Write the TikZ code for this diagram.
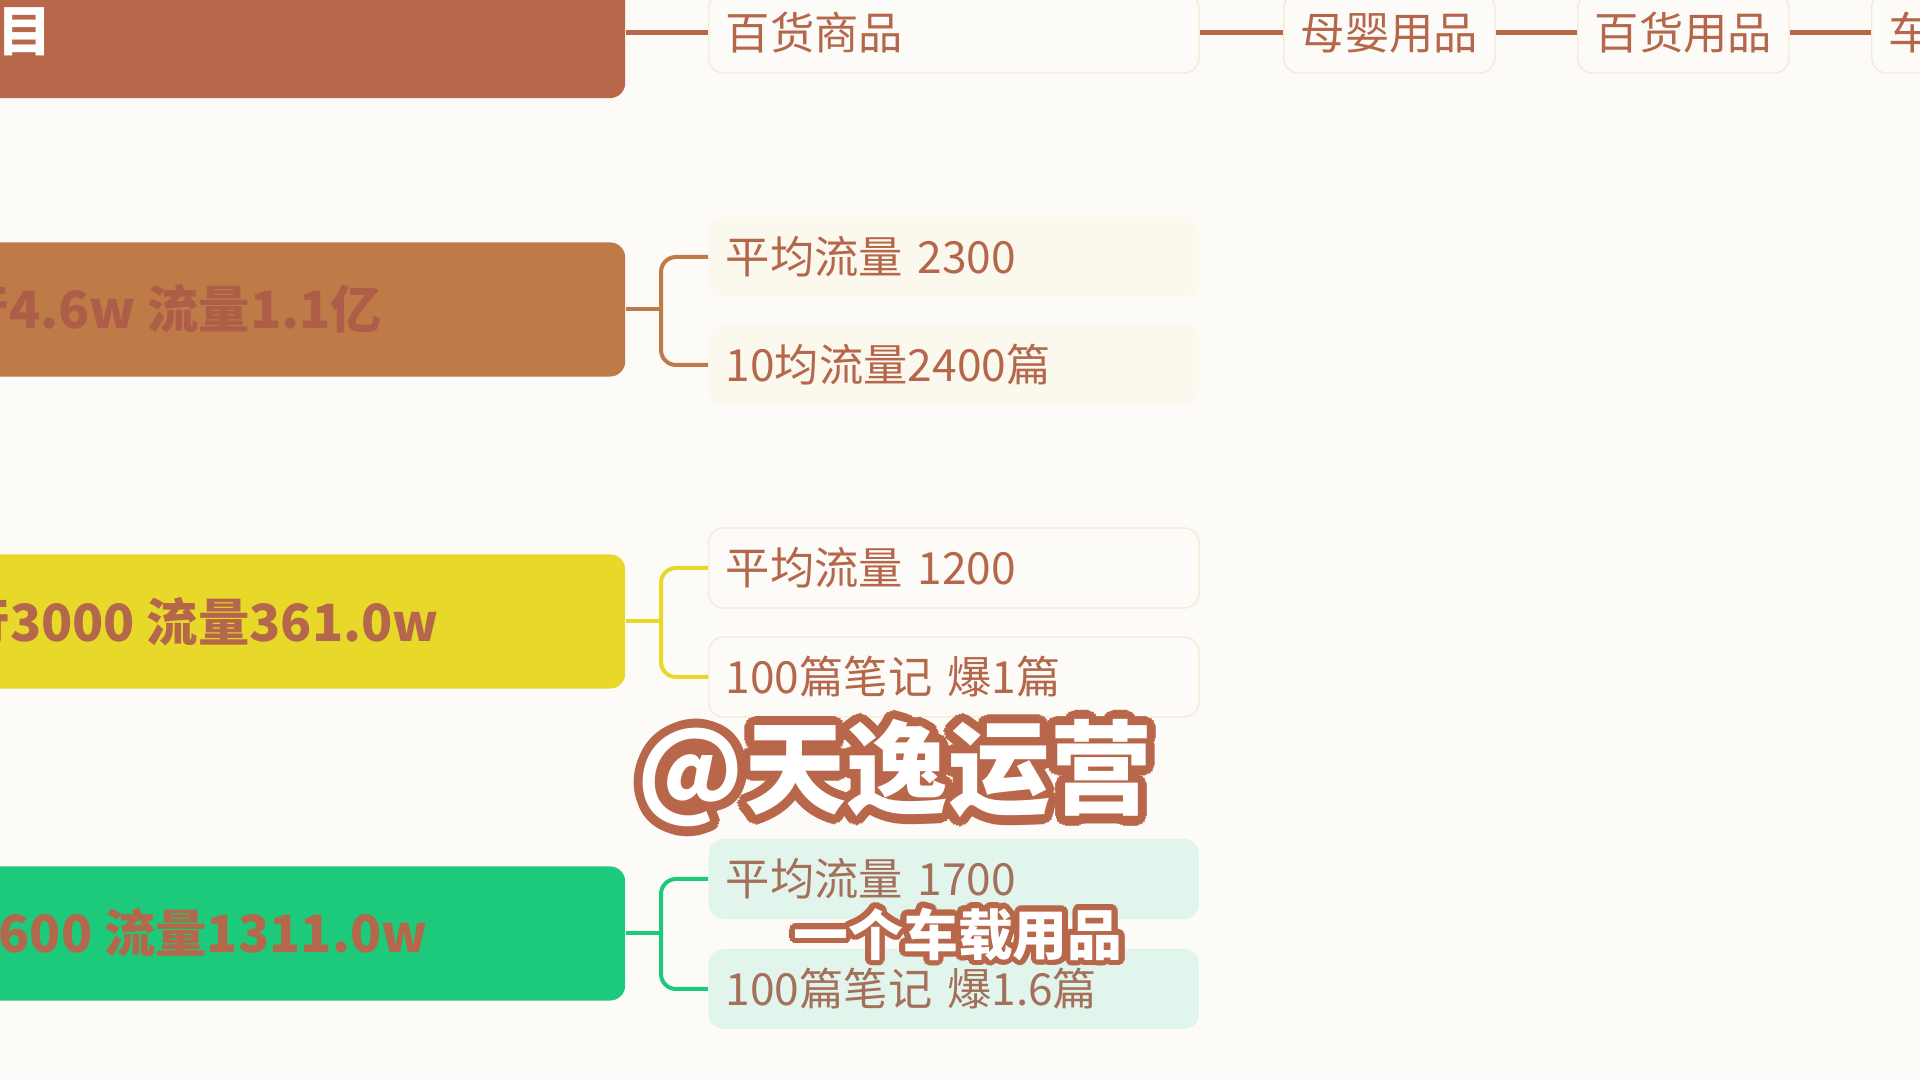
\documentclass[tikz,border=0pt]{standalone}
\usepackage{fontspec}
\setmainfont{Noto Sans CJK SC}
\usepackage{contour}
\contournumber{20}
\definecolor{bg}{HTML}{FCFBF7}
\definecolor{brn}{HTML}{B8674B}
\definecolor{tanc}{HTML}{BF7B47}
\definecolor{ylw}{HTML}{E8D82A}
\definecolor{grn}{HTML}{1DC97A}
\definecolor{txt}{HTML}{B5674B}
\definecolor{boxtxt}{HTML}{AE5E48}
\definecolor{gtxt}{HTML}{A4705A}
\definecolor{nodeln}{HTML}{F2EDD6}
\definecolor{tanfill}{HTML}{FBF8EE}
\definecolor{grnfill}{HTML}{E2F5EC}
\begin{document}
\begin{tikzpicture}[x=0.01cm,y=-0.01cm,
  mainbox/.style={rounded corners=0.15cm, inner sep=0, minimum width=6.65cm, minimum height=1.34cm},
  maintext/.style={font=\fontsize{14.6pt}{18pt}\selectfont\bfseries, anchor=west, inner sep=0},
  leaf/.style={rounded corners=0.15cm, minimum height=0.8cm, inner xsep=0.17cm, inner ysep=0, anchor=west, align=left, font=\fontsize{12.6pt}{15pt}\selectfont, text=txt},
  wide/.style={minimum width=4.9cm, text width=4.56cm},
  toplink/.style={draw=brn, line width=0.05cm},
  brace/.style={line width=0.04cm, rounded corners=0.15cm},
  outlined/.style={text=white, inner sep=0},
]
\useasboundingbox (0,0) rectangle (1920,1080);
\clip (0,0) rectangle (1920,1080);
\fill[bg] (0,0) rectangle (1920,1080);

% top row
\node[mainbox, fill=brn, minimum height=1.6cm] (b1) at (292.5,18) {};
\node[maintext, text=white, font=\fontsize{15.5pt}{18pt}\selectfont\bfseries] (t1) at (-3,32) {目};
\node[leaf, wide, fill=bg, draw=nodeln] (p1) at (708,33) {百货商品};
\node[leaf, minimum width=2.09cm, fill=bg, draw=nodeln] (p2) at (1283,33) {母婴用品};
\node[leaf, minimum width=2.08cm, fill=bg, draw=nodeln] (p3) at (1577,33) {百货用品};
\node[leaf, minimum width=2.08cm, fill=bg, draw=nodeln] (p4) at (1871,33) {车载用品};
\draw[toplink] (b1.east |- p1.west) -- (p1.west);
\draw[toplink] (p1.east) -- (p2.west);
\draw[toplink] (p2.east) -- (p3.west);
\draw[toplink] (p3.east) -- (p4.west);

% second group
\node[mainbox, fill=tanc] (b2) at (292.5,309.5) {};
\node[maintext, text=boxtxt] (t2) at (-43,309) {行4.6w 流量1.1亿};
\node[leaf, wide, fill=tanfill] (c21) at (708,257) {平均流量 2300};
\node[leaf, wide, fill=tanfill] (c22) at (708,365) {10均流量2400篇};
\coordinate (k2) at (661,309.5);
\draw[brace, draw=tanc] (b2.east) -- (k2);
\draw[brace, draw=tanc] (c21.west) -| (k2) |- (c22.west);

% third group
\node[mainbox, fill=ylw] (b3) at (292.5,621.5) {};
\node[maintext, text=txt] (t3) at (-42,622) {行3000 流量361.0w};
\node[leaf, wide, fill=bg, draw=nodeln] (c31) at (708,568) {平均流量 1200};
\node[leaf, wide, fill=bg, draw=nodeln] (c32) at (708,677) {100篇笔记 爆1篇};
\coordinate (k3) at (661,621.5);
\draw[brace, draw=ylw] (b3.east) -- (k3);
\draw[brace, draw=ylw] (c31.west) -| (k3) |- (c32.west);

% fourth group
\node[mainbox, fill=grn] (b4) at (292.5,933.5) {};
\node[maintext, text=txt] (t4) at (-2,933) {600 流量1311.0w};
\node[leaf, wide, fill=grnfill, text=gtxt] (c41) at (708,879) {平均流量 1700};
\node[leaf, wide, fill=grnfill, text=gtxt] (c42) at (708,989) {100篇笔记 爆1.6篇};
\coordinate (k4) at (661,933.5);
\draw[brace, draw=grn] (b4.east) -- (k4);
\draw[brace, draw=grn] (c41.west) -| (k4) |- (c42.west);

% overlay captions
\node[outlined, font=\fontsize{29pt}{33pt}\selectfont\bfseries] (wm) at (895,778) {\contourlength{2.6pt}\contour{brn}{@天逸运营}};
\node[outlined, font=\fontsize{15.6pt}{18pt}\selectfont\bfseries] (sub) at (958,937) {\contourlength{1.6pt}\contour{brn}{一个车载用品}};
\end{tikzpicture}
\end{document}
